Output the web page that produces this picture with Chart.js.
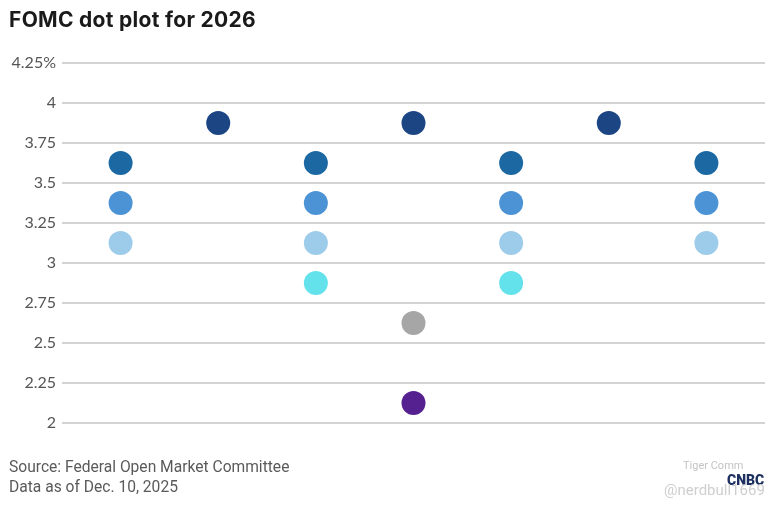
<!DOCTYPE html>
<html>
<head>
<meta charset="utf-8">
<script src="https://cdn.jsdelivr.net/npm/chart.js@4/dist/chart.umd.min.js"></script>
<style>
  html, body { margin: 0; padding: 0; background: #fff; }
  #wrap { position: relative; width: 777px; height: 509px; overflow: hidden; }
  #c { position: absolute; left: 0; top: 0; }
  #title { position: absolute; left: 9px; top: 7px; font-family: "Inter", sans-serif; font-weight: 700; font-size: 21px; color: #1a1a1a; letter-spacing: 0.3px; }
  .foot { position: absolute; left: 9px; font-family: "Roboto", sans-serif; font-size: 15.6px; color: #5a5a5a; }
  .wm { position: absolute; font-family: "Roboto", sans-serif; white-space: nowrap; }
</style>
</head>
<body>
<div id="wrap">
  <canvas id="c" width="777" height="509"></canvas>
  <div id="title">FOMC dot plot for 2026</div>
  <div class="foot" style="top:458px">Source: Federal Open Market Committee</div>
  <div class="foot" style="top:478px">Data as of Dec. 10, 2025</div>
  <div class="wm" style="left:683px; top:459px; font-size:11px; color:#c4c4c4;">Tiger Comm</div>
  <div class="wm" style="left:727px; top:472px; font-size:14px; font-weight:900; color:#1c2f5e;">CNBC</div>
  <div class="wm" style="left:664px; top:481px; font-size:15px; color:#cfcfcf;">@nerdbull1669</div>
</div>
<script>
// Columns (participant groups) positions 1..7 and rate values
const navyX = [2, 4, 6];
const navyY = [3.875, 3.875, 3.875];
const darkBlueX = [1, 3, 5, 7];
const darkBlueY = [3.625, 3.625, 3.625, 3.625];
const midBlueX = [1, 3, 5, 7];
const midBlueY = [3.375, 3.375, 3.375, 3.375];
const lightBlueX = [1, 3, 5, 7];
const lightBlueY = [3.125, 3.125, 3.125, 3.125];
const cyanX = [3, 5];
const cyanY = [2.875, 2.875];
const grayX = [4];
const grayY = [2.625];
const purpleX = [4];
const purpleY = [2.125];
const yTicks = [2, 2.25, 2.5, 2.75, 3, 3.25, 3.5, 3.75, 4, 4.25];
const yTickLabels = ["2", "2.25", "2.5", "2.75", "3", "3.25", "3.5", "3.75", "4", "4.25%"];

function pts(xs, ys) { return xs.map((x, i) => ({ x: x, y: ys[i] })); }
function ds(xs, ys, color) {
  return { data: pts(xs, ys), backgroundColor: color, borderWidth: 0, pointRadius: 12, pointHoverRadius: 12 };
}

new Chart(document.getElementById('c'), {
  type: 'scatter',
  data: {
    datasets: [
      ds(navyX, navyY, '#1b4583'),
      ds(darkBlueX, darkBlueY, '#1b68a2'),
      ds(midBlueX, midBlueY, '#4c93d5'),
      ds(lightBlueX, lightBlueY, '#9dcbea'),
      ds(cyanX, cyanY, '#64e2ec'),
      ds(grayX, grayY, '#a6a6a6'),
      ds(purpleX, purpleY, '#55208f')
    ]
  },
  options: {
    responsive: false,
    animation: false,
    events: [],
    layout: { padding: { left: 0, right: 12, top: 63, bottom: 86 } },
    plugins: { legend: { display: false }, tooltip: { enabled: false }, title: { display: false } },
    scales: {
      x: { type: 'linear', min: 0.4, max: 7.6, display: false },
      y: {
        type: 'linear', min: 2, max: 4.25,
        afterBuildTicks: (axis) => { axis.ticks = yTicks.map(v => ({ value: v })); },
        afterFit: (axis) => { axis.width = 62; },
        border: { display: false },
        grid: { color: '#d3d3d3', lineWidth: 2, drawTicks: false },
        ticks: {
          padding: 6,
          color: '#555',
          font: { family: 'Lato', size: 16 },
          callback: (v) => { const i = yTicks.indexOf(v); return i >= 0 ? yTickLabels[i] : ''; }
        }
      }
    }
  }
});
</script>
</body>
</html>
